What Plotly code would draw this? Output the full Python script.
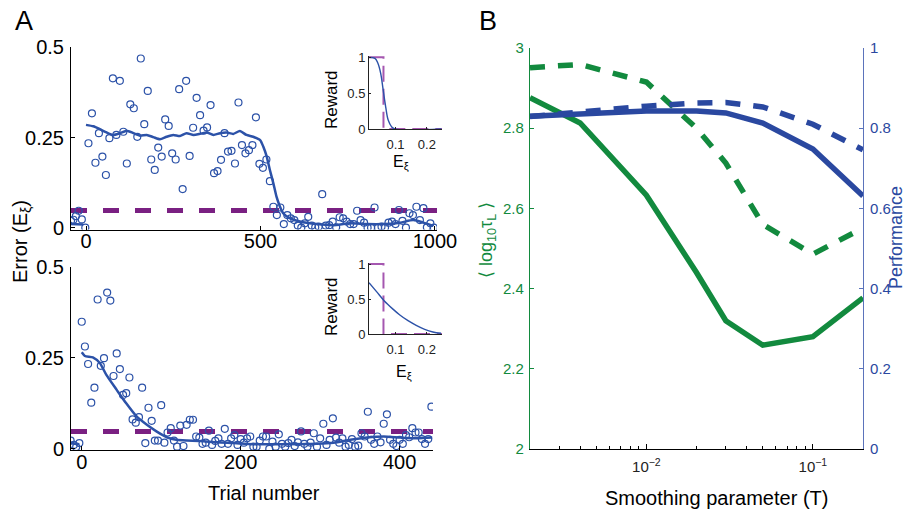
import plotly.graph_objects as go

# ---------------- data ----------------
# Panel A, upper run: errors per trial (one sample every 10 trials)
run1_pre_trial = [-43, -36, -29, -21, -12, -2]
run1_pre_err = [0.019, 0.022, 0.032, 0.047, 0.023, 0.0]
run1_trial = list(range(7, 1000, 10))
run1_err = [
    0.234, 0.317, 0.180, 0.262, 0.197, 0.146, 0.248, 0.414, 0.257, 0.407,
    0.266, 0.178, 0.342, 0.331, 0.252, 0.469, 0.287, 0.379, 0.189, 0.160,
    0.222, 0.197, 0.300, 0.282, 0.206, 0.189, 0.384, 0.107, 0.407, 0.199,
    0.277, 0.360, 0.312, 0.269, 0.278, 0.340, 0.151, 0.157, 0.188, 0.262,
    0.211, 0.213, 0.178, 0.347, 0.229, 0.206, 0.215, 0.229, 0.306, 0.177,
    0.166, 0.189, 0.129,
    0.058, 0.035, 0.056, 0.010, 0.035, 0.026, 0.021, 0.006, 0.000, 0.012,
    0.030, 0.006, 0.001, 0.003, 0.093, 0.006, 0.007, 0.017, 0.001, 0.029,
    0.026, 0.017, 0.010, 0.010, 0.047, 0.021, 0.014, 0.000, 0.000, 0.056,
    0.000, 0.003, 0.000, 0.014, 0.017, 0.010, 0.049, 0.019, 0.000, 0.040,
    0.035, 0.058, 0.021, 0.054, 0.001, 0.012, 0.000,
]
run1_smooth_pre_trial = [-43, -8]
run1_smooth_pre_err = [0.010, 0.009]
run1_smooth_trial = [0, 21, 40, 59, 78, 97, 117, 136, 155, 174, 193, 212, 231, 250,
                     269, 288, 308, 327, 346, 365, 384, 403, 422, 441, 460, 479, 499,
                     508, 518, 527, 537, 546, 556, 565, 585, 613, 661, 709, 756, 804,
                     852, 900, 938, 967, 995]
run1_smooth_err = [0.285, 0.281, 0.273, 0.264, 0.257, 0.262, 0.269, 0.262, 0.255, 0.257,
                   0.251, 0.245, 0.252, 0.257, 0.254, 0.262, 0.257, 0.260, 0.264, 0.257,
                   0.262, 0.264, 0.260, 0.268, 0.257, 0.252, 0.243, 0.225, 0.197, 0.160,
                   0.123, 0.086, 0.058, 0.040, 0.026, 0.017, 0.010, 0.007, 0.012, 0.010,
                   0.010, 0.014, 0.021, 0.014, 0.005]

# Panel A, lower run: errors per trial (one sample every 4 trials)
run2_pre_trial = [-14, -10, -7, -3]
run2_pre_err = [0.023, 0.011, 0.005, 0.016]
run2_trial = list(range(0, 441, 4))
run2_err = [
    0.349, 0.281, 0.233, 0.127, 0.168, 0.410, 0.228, 0.249, 0.429, 0.407,
    0.200, 0.262, 0.219, 0.148, 0.153, 0.196, 0.081, 0.072, 0.087, 0.168,
    0.016, 0.113, 0.077, 0.023, 0.023, 0.120, 0.017, 0.045,
    0.057, 0.023, 0.006, 0.064, 0.008, 0.066, 0.080, 0.080, 0.034, 0.031,
    0.014, 0.017, 0.050, 0.011, 0.022, 0.029, 0.014, 0.055, 0.014, 0.029,
    0.038, 0.011, 0.027, 0.017, 0.029, 0.034, 0.006, 0.006, 0.023, 0.034,
    0.034, 0.000, 0.020, 0.006, 0.040, 0.014, 0.006, 0.016, 0.025, 0.008,
    0.018, 0.048, 0.014, 0.006, 0.017, 0.043, 0.006, 0.029, 0.069, 0.011,
    0.025, 0.084, 0.031, 0.017, 0.029, 0.006, 0.011, 0.027, 0.006, 0.009,
    0.043, 0.034, 0.102, 0.025, 0.014, 0.034, 0.018, 0.069, 0.095, 0.025,
    0.014, 0.008, 0.025, 0.014, 0.038, 0.032, 0.057, 0.045, 0.045, 0.027,
    0.014, 0.027, 0.116,
]
run2_smooth_pre_trial = [-14, -3]
run2_smooth_pre_err = [0.016, 0.013]
run2_smooth_trial = [0, 4, 14, 23, 31, 44, 56, 69, 82, 94, 107, 119, 132, 149, 170,
                     191, 216, 254, 296, 317, 338, 359, 380, 401, 422, 441]
run2_smooth_err = [0.265, 0.255, 0.251, 0.235, 0.203, 0.162, 0.125, 0.089, 0.066, 0.048,
                   0.032, 0.025, 0.023, 0.022, 0.018, 0.016, 0.013, 0.013, 0.014, 0.017,
                   0.025, 0.031, 0.034, 0.031, 0.029, 0.031]

error_threshold = 0.048

# Reward functions (insets)
inset1_err = [0.016, 0.035, 0.044, 0.053, 0.061, 0.069, 0.077, 0.088, 0.098, 0.246]
inset1_reward = [1.0, 0.985, 0.92, 0.78, 0.545, 0.31, 0.125, 0.03, 0.0, 0.0]
inset2_err = [0.016, 0.040, 0.064, 0.093, 0.114, 0.140, 0.166, 0.193, 0.219, 0.245]
inset2_reward = [0.733, 0.605, 0.476, 0.352, 0.271, 0.19, 0.124, 0.067, 0.029, 0.01]
inset_threshold = 0.062

# Panel B: smoothing parameter sweep
smoothing_T = [0.002, 0.004, 0.01, 0.02, 0.03, 0.05, 0.1, 0.2]
log_tau_solid = [2.876, 2.813, 2.633, 2.44, 2.32, 2.259, 2.28, 2.377]
log_tau_dashed = [2.951, 2.959, 2.915, 2.80, 2.713, 2.56, 2.486, 2.551]
perf_solid = [0.830, 0.836, 0.843, 0.843, 0.838, 0.813, 0.748, 0.631]
perf_dashed = [0.829, 0.841, 0.855, 0.863, 0.864, 0.853, 0.81, 0.746]

# ---------------- styling ----------------
W, H = 907, 511
FONT = "Liberation Sans, Arial, sans-serif"
BLUE_A = "#2c52a8"
PURPLE = "#7a2082"
PURPLE_L = "#a557b0"
GREEN = "#128a3e"
BLUE_B = "#2a48a0"
BLUE_AX = "#5b73bb"


def fx(p):
    return p / W


def fy(p):
    return 1 - p / H


fig = go.Figure()

# ---- Panel A upper ----
XR1 = [-43, 1006]
fig.add_trace(go.Scatter(x=XR1, y=[error_threshold] * 2, xaxis="x", yaxis="y",
                         mode="lines", line=dict(color=PURPLE, width=5, dash="16px,16px")))
fig.add_trace(go.Scatter(x=run1_pre_trial + run1_trial, y=run1_pre_err + run1_err,
                         xaxis="x", yaxis="y", mode="markers",
                         marker=dict(symbol="circle-open", size=7, color=BLUE_A,
                                     line=dict(width=1.2))))
fig.add_trace(go.Scatter(x=run1_smooth_pre_trial, y=run1_smooth_pre_err, xaxis="x", yaxis="y",
                         mode="lines", line=dict(color=BLUE_A, width=2.5)))
fig.add_trace(go.Scatter(x=run1_smooth_trial, y=run1_smooth_err, xaxis="x", yaxis="y",
                         mode="lines", line=dict(color=BLUE_A, width=2.5, shape="spline",
                                                 smoothing=0.6)))

# ---- Panel A lower ----
XR2 = [-13.5, 442]
fig.add_trace(go.Scatter(x=XR2, y=[error_threshold] * 2, xaxis="x2", yaxis="y2",
                         mode="lines", line=dict(color=PURPLE, width=5, dash="16px,16px")))
fig.add_trace(go.Scatter(x=run2_pre_trial + run2_trial, y=run2_pre_err + run2_err,
                         xaxis="x2", yaxis="y2", mode="markers",
                         marker=dict(symbol="circle-open", size=7, color=BLUE_A,
                                     line=dict(width=1.2))))
fig.add_trace(go.Scatter(x=run2_smooth_pre_trial, y=run2_smooth_pre_err, xaxis="x2", yaxis="y2",
                         mode="lines", line=dict(color=BLUE_A, width=2.5)))
fig.add_trace(go.Scatter(x=run2_smooth_trial, y=run2_smooth_err, xaxis="x2", yaxis="y2",
                         mode="lines", line=dict(color=BLUE_A, width=2.5, shape="spline",
                                                 smoothing=0.6)))

# ---- insets: reward functions ----
XRI = [0.016, 0.248]
for xa, ya, ex, rw in (("x3", "y3", inset1_err, inset1_reward),
                       ("x4", "y4", inset2_err, inset2_reward)):
    fig.add_trace(go.Scatter(x=[XRI[0], inset_threshold, inset_threshold, XRI[1]],
                             y=[1, 1, 0, 0], xaxis=xa, yaxis=ya, mode="lines",
                             line=dict(color=PURPLE_L, width=2, dash="16px,7px")))
    fig.add_trace(go.Scatter(x=ex, y=rw, xaxis=xa, yaxis=ya, mode="lines",
                             line=dict(color=BLUE_A, width=1.4, shape="spline")))

# ---- Panel B ----
fig.add_trace(go.Scatter(x=smoothing_T, y=log_tau_solid, xaxis="x5", yaxis="y5",
                         mode="lines", line=dict(color=GREEN, width=5.5)))
fig.add_trace(go.Scatter(x=smoothing_T, y=log_tau_dashed, xaxis="x5", yaxis="y5",
                         mode="lines", line=dict(color=GREEN, width=5.5, dash="15px,13px")))
fig.add_trace(go.Scatter(x=smoothing_T, y=perf_solid, xaxis="x5", yaxis="y6",
                         mode="lines", line=dict(color=BLUE_B, width=5.5)))
fig.add_trace(go.Scatter(x=smoothing_T, y=perf_dashed, xaxis="x5", yaxis="y6",
                         mode="lines", line=dict(color=BLUE_B, width=5.5, dash="15px,13px")))

axis_common = dict(showgrid=False, zeroline=False, showline=True, linecolor="black",
                   linewidth=1, ticks="inside", ticklen=4, tickcolor="black", automargin=False,
                   tickfont=dict(size=20, color="black", family=FONT))
inset_common = dict(showgrid=False, zeroline=False, showline=True, linecolor="#222",
                    linewidth=1, ticks="inside", ticklen=2, tickcolor="#222", automargin=False,
                    tickfont=dict(size=13, color="#222", family=FONT))

minor_vals = [0.002, 0.003, 0.004, 0.005, 0.006, 0.007, 0.008, 0.009,
              0.02, 0.03, 0.04, 0.05, 0.06, 0.07, 0.08, 0.09, 0.2]

fig.update_layout(
    template="none",
    width=W, height=H, autosize=False,
    margin=dict(l=0, r=0, t=0, b=0, pad=0),
    paper_bgcolor="white", plot_bgcolor="rgba(0,0,0,0)",
    showlegend=False,
    font=dict(family=FONT, color="black"),
    xaxis=dict(axis_common, domain=[fx(71), fx(437)], range=XR1, tickvals=[0, 500, 1000],
               anchor="y", ticklabelstandoff=-7),
    yaxis=dict(axis_common, domain=[fy(229.5), fy(47.3)], range=[-0.005, 0.5],
               tickvals=[0, 0.25, 0.5], ticktext=["0", "0.25", "0.5"], anchor="x",
               ticklabelstandoff=2),
    xaxis2=dict(axis_common, domain=[fx(71), fx(433)], range=XR2, tickvals=[0, 200, 400],
                anchor="y2", ticklabelstandoff=-6),
    yaxis2=dict(axis_common, domain=[fy(450), fy(266.7)], range=[-0.003, 0.5],
                tickvals=[0, 0.25, 0.5], ticktext=["0", "0.25", "0.5"], anchor="x2",
                ticklabelstandoff=2),
    xaxis3=dict(inset_common, domain=[fx(369), fx(442)], range=XRI, tickvals=[0.1, 0.2],
                anchor="y3", ticklabelstandoff=3),
    yaxis3=dict(inset_common, domain=[fy(129), fy(55.9)], range=[0, 1.02],
                tickvals=[0, 0.5, 1], ticktext=["0", "0.5", "1"], anchor="x3"),
    xaxis4=dict(inset_common, domain=[fx(369), fx(442)], range=XRI, tickvals=[0.1, 0.2],
                anchor="y4", ticklabelstandoff=3),
    yaxis4=dict(inset_common, domain=[fy(334), fy(262.6)], range=[0, 1.02],
                tickvals=[0, 0.5, 1], ticktext=["0", "0.5", "1"], anchor="x4"),
    xaxis5=dict(showgrid=False, zeroline=False, showline=True, linecolor="black", linewidth=1,
                type="log", range=[-2.699, -0.699], domain=[fx(530), fx(863)],
                tickvals=[0.01, 0.1], ticktext=["10<sup>\u22122</sup>", "10<sup>\u22121</sup>"],
                ticks="inside", ticklen=5, tickcolor="black", automargin=False,
                tickfont=dict(size=15, color="#222", family=FONT),
                minor=dict(tickmode="array", tickvals=minor_vals, ticks="inside",
                           ticklen=3, tickcolor="black", showgrid=False),
                anchor="y5", ticklabelstandoff=4),
    yaxis5=dict(showgrid=False, zeroline=False, showline=True, linecolor=GREEN, linewidth=1.2,
                range=[2, 3], domain=[fy(449), fy(48)], tickvals=[2, 2.2, 2.4, 2.6, 2.8, 3],
                ticktext=["2", "2.2", "2.4", "2.6", "2.8", "3"], automargin=False,
                ticks="inside", ticklen=4, tickcolor=GREEN,
                tickfont=dict(size=15, color=GREEN, family=FONT), anchor="x5",
                ticklabelstandoff=2),
    yaxis6=dict(showgrid=False, zeroline=False, showline=True, linecolor=BLUE_AX, linewidth=1.2,
                range=[0, 1], overlaying="y5", side="right", anchor="x5", automargin=False,
                tickvals=[0, 0.2, 0.4, 0.6, 0.8, 1],
                ticktext=["0", "0.2", "0.4", "0.6", "0.8", "1"],
                ticks="inside", ticklen=4, tickcolor=BLUE_AX,
                tickfont=dict(size=15, color=BLUE_B, family=FONT), ticklabelstandoff=3),
)

annotations = [
    dict(text="A", x=fx(24), y=fy(21), font=dict(size=27)),
    dict(text="B", x=fx(488), y=fy(21), font=dict(size=27)),
    dict(text="Error (E<sub>\u03be</sub>)", x=fx(21), y=fy(242), textangle=-90,
         font=dict(size=20)),
    dict(text="Trial number", x=fx(264), y=fy(493), font=dict(size=20)),
    dict(text="Smoothing parameter (T)", x=fx(716), y=fy(498), font=dict(size=20)),
    dict(text="\u27e8 log<sub>10</sub>\u03c4<sub>L</sub> \u27e9", x=fx(487), y=fy(240),
         textangle=-90, font=dict(size=18, color=GREEN)),
    dict(text="Performance", x=fx(896), y=fy(238), textangle=-90,
         font=dict(size=18, color=BLUE_B)),
    dict(text="Reward", x=fx(331), y=fy(100), textangle=-90, font=dict(size=17)),
    dict(text="Reward", x=fx(331), y=fy(307), textangle=-90, font=dict(size=17)),
    dict(text="E<sub>\u03be</sub>", x=fx(401), y=fy(162), font=dict(size=16)),
    dict(text="E<sub>\u03be</sub>", x=fx(404), y=fy(372), font=dict(size=16)),
]
for a in annotations:
    a.update(xref="paper", yref="paper", showarrow=False, xanchor="center", yanchor="middle")
    a["font"].setdefault("family", FONT)
    a["font"].setdefault("color", "black")
fig.update_layout(annotations=annotations)

fig.write_html("out.html")
